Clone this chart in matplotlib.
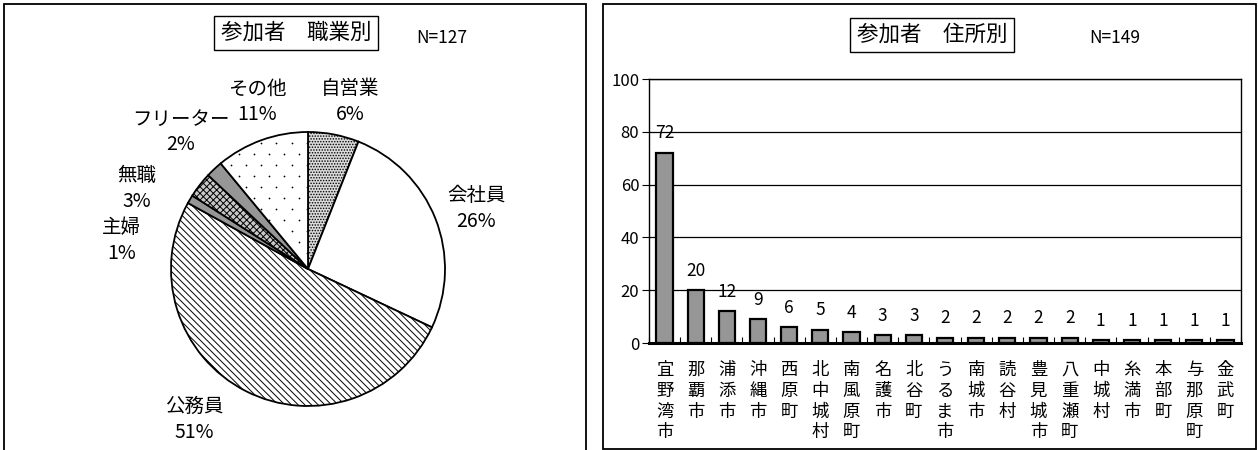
import numpy as np
import matplotlib
matplotlib.use('Agg')
import matplotlib.pyplot as plt
from matplotlib.patches import Rectangle

plt.rcParams['font.family'] = ['Noto Sans CJK JP', 'DejaVu Sans']
plt.rcParams['hatch.linewidth'] = 0.7

# occupation pie (N=127)
job_names = ['自営業', '会社員', '公務員', '主婦', '無職', 'フリーター', 'その他']
job_pct = [6, 26, 51, 1, 3, 2, 11]

# address bars (N=149)
towns = ['宜野湾市', '那覇市', '浦添市', '沖縄市', '西原町', '北中城村', '南風原町',
         '名護市', '北谷町', 'うるま市', '南城市', '読谷村', '豊見城市', '八重瀬町',
         '中城村', '糸満市', '本部町', '与那原町', '金武町']
town_counts = [72, 20, 12, 9, 6, 5, 4, 3, 3, 2, 2, 2, 2, 2, 1, 1, 1, 1, 1]

W, H = 1258, 450


def px(x0, y0, x1, y1):
    # pixel box (top-left origin) -> figure fraction rect
    return [x0 / W, 1 - y1 / H, (x1 - x0) / W, (y1 - y0) / H]


fig = plt.figure(figsize=(W / 100, H / 100), dpi=100)

# panel frames
fig.add_artist(Rectangle((4 / W, -0.01), 582 / W, 1 - 4 / H + 0.01,
                         transform=fig.transFigure, fill=False, lw=1.3, ec='black'))
fig.add_artist(Rectangle((603 / W, 1 - 449 / H), 653 / W, 445 / H,
                         transform=fig.transFigure, fill=False, lw=1.3, ec='black'))

# ---- pie ----
ax1 = fig.add_axes(px(171, 132, 445, 406))
faces = ['#dadada', 'white', 'white', '#969696', '#c8c8c8', '#969696', 'white']
hatches = ['......', None, '\\\\\\\\\\', None, 'xxxxx', None, None]
wedges, _ = ax1.pie(job_pct, startangle=90, counterclock=False, radius=1,
                    colors=faces, wedgeprops=dict(edgecolor='black', linewidth=1.3))
for w, h in zip(wedges, hatches):
    if h:
        w.set_hatch(h)

# sparse dot texture for "その他", clipped to its wedge
gx, gy = np.meshgrid(np.arange(-1.0, 1.0, 0.11), np.arange(-1.0, 1.0, 0.08))
gx = gx + (np.arange(gx.shape[0]) % 2)[:, None] * 0.055
dots = ax1.scatter(gx.ravel(), gy.ravel(), s=1.6, color='black', linewidths=0, zorder=2)
dots.set_clip_path(wedges[-1])

ax1.set_xlim(-1, 1)
ax1.set_ylim(-1, 1)
ax1.set_aspect('auto')

label_xy = [(0.31, 1.22), (1.23, 0.44), (-0.83, -1.10), (-1.36, 0.21),
            (-1.25, 0.59), (-0.93, 1.00), (-0.37, 1.22)]
for name, p, (lx, ly) in zip(job_names, job_pct, label_xy):
    ax1.text(lx, ly, f'{name}\n{p}%', ha='center', va='center', fontsize=14,
             linespacing=1.3, clip_on=False)

fig.text(296 / W, 1 - 33 / H, '参加者\u3000職業別', ha='center', va='center', fontsize=15.5,
         bbox=dict(boxstyle='square,pad=0.3', fc='white', ec='black', lw=1))
fig.text(442 / W, 1 - 38 / H, 'N=127', ha='center', va='center', fontsize=12.5)

# ---- bars ----
ax2 = fig.add_axes(px(649, 79, 1241, 343))
x = np.arange(len(towns))
bars = ax2.bar(x, town_counts, width=0.52, color='#969696', edgecolor='black',
               linewidth=1.6, zorder=3)
for xi, v in zip(x, town_counts):
    ax2.annotate(str(v), (xi, v), xytext=(0, 14), textcoords='offset points',
                 ha='center', va='center', fontsize=12.5)

ax2.set_xlim(-0.5, len(towns) - 0.5)
ax2.set_ylim(0, 100)
ax2.set_yticks(np.arange(0, 101, 20))
ax2.yaxis.grid(True, color='black', linewidth=0.9)
ax2.set_axisbelow(True)
ax2.tick_params(axis='y', direction='out', length=5, labelsize=12, pad=2)
ax2.set_xticks(x)
ax2.set_xticklabels(['\n'.join(t) for t in towns], fontsize=12.5, linespacing=1.2)
ax2.set_xticks(np.arange(-0.5, len(towns)), minor=True)
ax2.tick_params(axis='x', which='major', length=0, pad=13)
ax2.tick_params(axis='x', which='minor', direction='in', length=4, width=0.8)
for s in ax2.spines.values():
    s.set_linewidth(1.0)
ax2.spines['bottom'].set_linewidth(2.2)
ax2.spines['bottom'].set_zorder(4)

fig.text(932 / W, 1 - 35 / H, '参加者\u3000住所別', ha='center', va='center', fontsize=15.5,
         bbox=dict(boxstyle='square,pad=0.3', fc='white', ec='black', lw=1))
fig.text(1115 / W, 1 - 38 / H, 'N=149', ha='center', va='center', fontsize=12.5)

fig.savefig('out.png', dpi=100)
